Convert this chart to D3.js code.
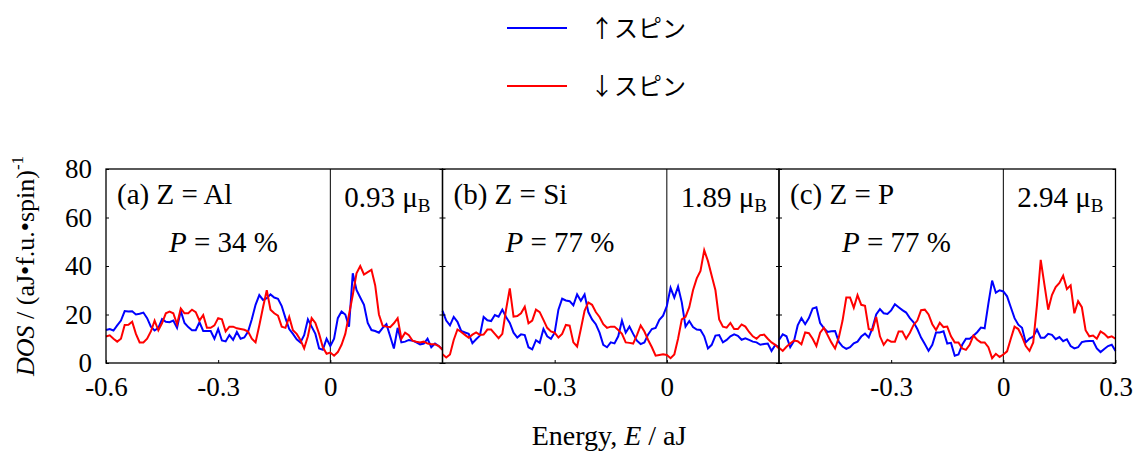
<!DOCTYPE html>
<html>
<head>
<meta charset="utf-8">
<script src="https://cdn.jsdelivr.net/npm/d3@7"></script>
<style>
  body { margin: 0; background: #fff; }
  text { font-family: "Liberation Serif", "Times New Roman", serif; fill: #000; }
  .legend text { font-family: "Noto Sans CJK JP", "Noto Sans", sans-serif; }
</style>
</head>
<body>
<svg id="chart"></svg>
<script>
// energy grid (aJ), one point every 0.01
var energy = d3.range(91).map(function(i) { return Math.round((-0.6 + i * 0.01) * 100) / 100; });

var panelNames = ["(a) Z = Al", "(b) Z = Si", "(c) Z = P"];
var polarization = ["34", "77", "77"];
var moments = ["0.93", "1.89", "2.94"];
var legendLabels = ["\u2191\u30B9\u30D4\u30F3", "\u2193\u30B9\u30D4\u30F3"];
var yTicks = [0, 20, 40, 60, 80];
var xTickLabels = [[-0.6, -0.3, 0], [-0.3, 0], [-0.3, 0, 0.3]];

// DOS values
var aUp = [13.6,14.0,13.4,15.5,17.5,21.4,21.2,21.3,20,20.3,20.8,18.5,15,13.4,14.5,18.1,17,16.8,17.5,14.5,21.5,16.5,14.8,13.5,13.5,16.8,13.2,13.2,13.2,10,14,9.3,8.9,11.5,9.5,12.8,10,10.5,13,18,24,28,26,26.7,28.3,27,
           26.5,23.5,18.5,14,12,9.8,8.5,11.5,18,15,12,6,5.5,10,7,10,18.5,21.2,20,15,37,30.1,27,24,16.5,13.6,13.2,12.5,14.5,16,11,6,14.5,8.5,8.8,9.5,9.2,8.5,7.7,8,10,6.5,8,7,5.6];
var aDown = [10.9,11.4,10,8.8,10,15.7,15.8,17,12,8.5,8.5,10,13,17.5,13.5,16.5,20.5,21.2,20.5,16,22.5,20.5,20.5,22,21,17.5,19.8,14.5,14.5,15.5,18.5,18,13,15,15,14.3,14,13.7,13,10,8.5,15.5,23,30,22,20.5,
             19.5,15,14.5,19,13.5,12,9.5,6,11,18.5,16.5,12,6.5,3.8,4.3,3,4.5,7.5,12,20,28,37,40,36.5,37.5,38.4,32,20,15.3,15,14.8,16.4,18.5,10,12.5,11.5,9.2,8.8,8.5,8.8,8,7.7,7.7,7,5.5];
var bUp = [21.5,17.5,15.5,19,17,13.2,12.6,12,8.2,9.8,11.3,19,17.6,17.3,19.8,19.1,22,19,16.5,12.5,10.5,11.8,11.5,6.5,5.6,9.4,8.3,14,11,10,12.5,22,26.5,25.8,25.5,23.8,28.3,25.7,28.3,21,18,16,12.5,7.5,6.5,8.5,
           8.1,11,17.5,12.5,15,12,9.2,7.8,8.5,11.8,14,14.5,17.8,19.5,23.5,31,27,31.5,25,15,17.3,14.8,13.8,13.6,11,6,7.5,11.3,11.5,8.5,9.5,11,11.8,11.2,9.6,10.2,9.5,8.8,8.5,7.5,7.8,8,5,7.4,6.5];
var bDown = [3.6,2.3,3.5,9.5,13.8,12.8,11.6,10.4,11.7,12.6,11.6,11.7,13.8,13.8,12,10.2,12,22,30.8,19.1,19.4,20.5,23.2,16.4,17.5,22,21,17.8,14.5,13,12.5,10.5,12,15.7,15.4,8.5,6.8,14,21.5,25,24,21,19,16,14.5,15,
             15,13.6,12,8.5,8.3,8,11.5,15.5,13,9.5,6.5,3,3.3,3.6,3.3,2,3.5,10,18,19,23,30,34.9,38,46.5,42,36,30,18,15,14.6,16.5,14,14,15.9,15,12.8,11,10,11.5,11.7,10,8.5,7.5,6];
var cUp = [9.5,11.8,11,6.5,9,15.5,18.5,16,18.5,22.5,23,16.5,14.4,12.8,13.1,13.2,8.7,6.8,5.8,6.5,8.1,8.8,10.9,12.1,10.5,14.5,20,22.2,20.5,20.2,21.7,24.2,23,21.8,20.8,18.5,16.8,14,10.5,7.8,5,7.5,12.6,12.6,13.1,8,
           8.3,3,3.5,7.5,10,10,11.2,12.7,14.6,14.3,24.5,34,29,30,29.5,27.5,23,18.5,15.8,14.5,8.5,10.1,10.9,13.8,10.4,10.4,12,11.6,9.8,10.7,9,9.8,7,6,6.5,8.6,9,9.1,9.1,6,4.5,5.8,7,7.5,5];
var cDown = [6.3,5,6.7,8,9.3,9,7.7,12.6,12.3,10,7,12.5,14.5,11.5,8.5,6,10.5,17.5,27,27,22.8,28,24,23.6,14,13.5,19,11,7.5,9.6,8.8,8.8,13,13,10,12.5,15.7,17.5,21.8,22,20,16,13.6,16.6,14.8,15,
             11,8.5,8.5,6,5.4,7.5,11.3,9.6,8.5,8.5,6.5,2,3.8,2.5,3.5,4.8,10,15,14,10.9,7,5,8.5,24,42.5,32.2,22,28,31.3,33,36,30.5,32,20.5,25.5,23,13.5,11,11.3,10,13,12,10.5,11,10];

var upSeries = [aUp, bUp, cUp];
var downSeries = [aDown, bDown, cDown];
var upColor = "#0000ff", downColor = "#ff0000";

var width = 1136, height = 452;
var plot = { left: 106, top: 169, bottom: 363, panelWidth: 336.5 };

var svg = d3.select("#chart").attr("width", width).attr("height", height);

var y = d3.scaleLinear().domain([0, 80]).range([plot.bottom, plot.top]);

panelNames.forEach(function(name, i) {
  var x0 = plot.left + i * plot.panelWidth;
  var x = d3.scaleLinear().domain([-0.6, 0.3]).range([x0, x0 + plot.panelWidth]);
  var g = svg.append("g");

  // zero line
  g.append("line")
    .attr("x1", x(0)).attr("x2", x(0))
    .attr("y1", plot.top).attr("y2", plot.bottom)
    .attr("stroke", "#000").attr("stroke-width", 1);

  var line = d3.line()
    .x(function(d, j) { return x(energy[j]); })
    .y(function(d) { return y(d); });

  g.append("path").datum(upSeries[i])
    .attr("d", line).attr("fill", "none")
    .attr("stroke", upColor).attr("stroke-width", 2);
  g.append("path").datum(downSeries[i])
    .attr("d", line).attr("fill", "none")
    .attr("stroke", downColor).attr("stroke-width", 2);

  // inward ticks left/right
  g.append("g").attr("transform", "translate(" + x0 + ",0)")
    .call(d3.axisLeft(y).tickValues(yTicks).tickSize(-3).tickFormat(""));
  g.append("g").attr("transform", "translate(" + (x0 + plot.panelWidth) + ",0)")
    .call(d3.axisRight(y).tickValues(yTicks).tickSize(-3).tickFormat(""));

  // x axis
  g.append("g").attr("class", "xaxis")
    .attr("transform", "translate(0," + plot.bottom + ")")
    .call(d3.axisBottom(x).tickValues(xTickLabels[i]).tickSize(-3).tickPadding(14)
      .tickFormat(function(d) { return d === 0 ? "0" : String(d); }));

  // frame
  g.append("rect")
    .attr("x", x0).attr("y", plot.top)
    .attr("width", plot.panelWidth).attr("height", plot.bottom - plot.top)
    .attr("fill", "none").attr("stroke", "#000").attr("stroke-width", 1.3);

  // labels
  g.append("text").attr("x", x0 + 11).attr("y", 204)
    .attr("font-size", 29).text(name);

  var p = g.append("text").attr("x", x0 + 63).attr("y", 252).attr("font-size", 29);
  p.append("tspan").attr("font-style", "italic").text("P");
  p.append("tspan").text(" = " + polarization[i] + " %");

  var m = g.append("text").attr("x", x0 + plot.panelWidth - 12).attr("y", 207)
    .attr("font-size", 29).attr("text-anchor", "end");
  m.append("tspan").text(moments[i] + " \u03BC");
  m.append("tspan").attr("font-size", 19).attr("dy", 5).text("B");
});

svg.selectAll(".domain").remove();
svg.selectAll(".tick line").attr("stroke", "#000");
svg.selectAll(".xaxis text").attr("font-size", 27)
  .style("font-family", "'Liberation Serif', serif");

// y axis labels on first panel
svg.append("g").attr("transform", "translate(" + plot.left + ",0)")
  .call(d3.axisLeft(y).tickValues(yTicks).tickSize(0).tickPadding(14))
  .call(function(a) { a.select(".domain").remove(); })
  .selectAll("text").attr("font-size", 27)
  .style("font-family", "'Liberation Serif', serif");

// y title
var yt = svg.append("text")
  .attr("transform", "translate(34," + ((plot.top + plot.bottom) / 2) + ") rotate(-90)")
  .attr("text-anchor", "middle").attr("font-size", 26);
yt.append("tspan").attr("font-style", "italic").text("DOS");
yt.append("tspan").text(" / (aJ\u2022f.u.\u2022spin)");
yt.append("tspan").attr("font-size", 17).attr("dy", -11).text("-1");

// x title
var xt = svg.append("text").attr("x", 609).attr("y", 445)
  .attr("text-anchor", "middle").attr("font-size", 28);
xt.append("tspan").text("Energy, ");
xt.append("tspan").attr("font-style", "italic").text("E");
xt.append("tspan").text(" / aJ");

// legend
var legend = svg.append("g").attr("class", "legend");
var legendColors = [upColor, downColor];
legendLabels.forEach(function(label, i) {
  var ly = 28 + i * 58;
  legend.append("line").attr("x1", 507).attr("x2", 567)
    .attr("y1", ly).attr("y2", ly)
    .attr("stroke", legendColors[i]).attr("stroke-width", 2);
  legend.append("text").attr("x", 590).attr("y", ly).attr("dy", "0.36em")
    .attr("font-size", 24).text(label);
});
</script>
</body>
</html>
